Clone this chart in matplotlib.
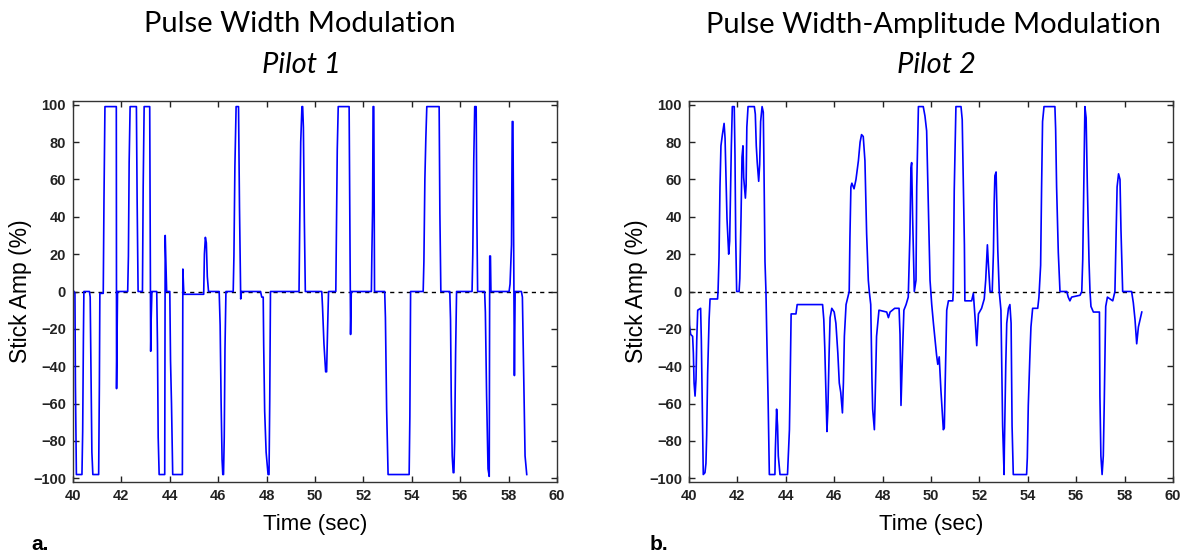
import matplotlib.pyplot as plt
import numpy as np

# Pilot 1 - pulse width modulation (time in sec, stick amplitude in %)
t_pwm = [40.04, 40.08, 40.10, 40.14, 40.37, 40.40, 40.43, 40.45, 40.68, 40.71, 40.74, 40.78, 40.82,
         41.06, 41.09, 41.11, 41.25, 41.28, 41.32, 41.79, 41.80, 41.82, 41.84, 42.26, 42.29, 42.32,
         42.36, 42.62, 42.65, 42.69, 42.87, 42.90, 42.94, 43.17, 43.19, 43.21, 43.23, 43.26, 43.46,
         43.49, 43.52, 43.56, 43.79, 43.81, 43.84, 43.87, 44.00, 44.03, 44.07, 44.12, 44.52, 44.54,
         44.56, 44.58, 45.40, 45.43, 45.47, 45.51, 45.55, 45.60, 46.04, 46.08, 46.12, 46.16, 46.19,
         46.22, 46.25, 46.28, 46.32, 46.62, 46.65, 46.69, 46.74, 46.84, 46.88, 46.93, 46.96, 47.75,
         47.80, 47.86, 47.88, 47.92, 47.98, 48.06, 48.10, 48.13, 48.16, 49.34, 49.37, 49.41, 49.46,
         49.49, 49.52, 49.56, 49.60, 50.28, 50.31, 50.37, 50.44, 50.48, 50.52, 50.56, 50.86, 50.88,
         50.92, 50.96, 51.41, 51.44, 51.47, 51.50, 52.33, 52.35, 52.38, 52.40, 52.43, 52.46, 52.88,
         52.91, 52.96, 53.02, 53.89, 53.92, 53.95, 54.47, 54.50, 54.54, 54.58, 54.62, 55.13, 55.16,
         55.20, 55.57, 55.60, 55.63, 55.67, 55.71, 55.74, 55.77, 55.81, 55.85, 56.49, 56.52, 56.56,
         56.60, 56.66, 56.69, 56.72, 57.01, 57.04, 57.09, 57.15, 57.20, 57.22, 57.25, 57.27, 58.02,
         58.06, 58.12, 58.15, 58.18, 58.21, 58.24, 58.27, 58.53, 58.57, 58.62, 58.68, 58.75]
amp_pwm = [0, -1, -50, -98, -98, -75, -25, 0, 0, -3, -38, -86, -98,
           -98, -50, -1, -1, 49, 99, 99, -52, -25, 0, 0, 19, 69,
           99, 99, 49, 0, 0, 56, 99, 99, 32, -32, -15, 0, 0,
           -28, -78, -98, -98, 30, 15, 0, 0, -37, -60, -98, -98, 12,
           5, -1.5, -1.5, 20, 29, 26, 8, 0, 0, -18, -59, -90, -98,
           -98, -78, -31, 0, 0, 19, 67, 99, 99, 45, -4, 0, 0,
           -3, -3, -29, -64, -86, -98, -98, -58, 0, 0, 37, 80, 99,
           99, 88, 38, 0, 0, -8, -28, -43, -43, -20, 0, 0, 27,
           76, 99, 99, 37, -23, 0, 0, 20, 44, 99, 99, 0, 0,
           -14, -63, -98, -98, -67, 0, 0, 16, 60, 82, 99, 99, 42,
           0, 0, -15, -56, -88, -97, -97, -81, -33, 0, 0, 20, 70,
           99, 99, 38, 0, 0, -11, -55, -95, -99, 19, 19, 0, 0,
           4, 25, 91, 91, 23, -45, 0, 0, -3, -41, -88, -98]

# Pilot 2 - pulse width-amplitude modulation
t_pwam = [40.00, 40.02, 40.07, 40.15, 40.18, 40.21, 40.25, 40.29, 40.32, 40.36, 40.48, 40.51, 40.55,
          40.59, 40.66, 40.70, 40.73, 40.77, 40.83, 40.87, 41.18, 41.20, 41.24, 41.28, 41.32, 41.38,
          41.45, 41.49, 41.53, 41.57, 41.64, 41.68, 41.72, 41.75, 41.79, 41.87, 41.90, 41.93, 41.97,
          42.07, 42.10, 42.15, 42.19, 42.23, 42.26, 42.33, 42.36, 42.39, 42.44, 42.70, 42.74, 42.78,
          42.82, 42.88, 42.92, 42.96, 43.02, 43.07, 43.10, 43.14, 43.18, 43.21, 43.27, 43.32, 43.55,
          43.57, 43.62, 43.66, 43.69, 43.76, 44.07, 44.10, 44.15, 44.17, 44.22, 44.42, 44.47, 45.52,
          45.57, 45.61, 45.65, 45.70, 45.74, 45.79, 45.83, 45.90, 46.00, 46.07, 46.15, 46.21, 46.27,
          46.34, 46.38, 46.42, 46.49, 46.58, 46.62, 46.65, 46.69, 46.73, 46.82, 46.90, 47.00, 47.07,
          47.13, 47.20, 47.27, 47.34, 47.41, 47.45, 47.51, 47.56, 47.59, 47.66, 47.69, 47.75, 47.85,
          48.17, 48.24, 48.31, 48.50, 48.68, 48.72, 48.76, 48.83, 48.88, 48.97, 49.06, 49.13, 49.17,
          49.20, 49.24, 49.31, 49.38, 49.41, 49.48, 49.68, 49.75, 49.82, 49.89, 49.96, 50.03, 50.10,
          50.23, 50.28, 50.34, 50.41, 50.51, 50.55, 50.58, 50.65, 50.72, 50.90, 50.92, 50.96, 51.03,
          51.24, 51.29, 51.34, 51.38, 51.40, 51.68, 51.75, 51.82, 51.89, 51.96, 52.09, 52.20, 52.26,
          52.33, 52.37, 52.44, 52.53, 52.58, 52.61, 52.64, 52.69, 52.72, 52.76, 52.82, 52.89, 52.92,
          52.96, 53.02, 53.03, 53.09, 53.13, 53.20, 53.26, 53.31, 53.35, 53.40, 53.95, 53.98, 54.02,
          54.09, 54.13, 54.20, 54.41, 54.46, 54.53, 54.57, 54.61, 54.67, 55.12, 55.15, 55.19, 55.26,
          55.33, 55.61, 55.67, 55.74, 55.81, 56.16, 56.23, 56.27, 56.31, 56.36, 56.41, 56.46, 56.53,
          56.57, 56.61, 56.71, 56.96, 56.98, 57.02, 57.07, 57.12, 57.16, 57.22, 57.29, 57.40, 57.51,
          57.60, 57.64, 57.69, 57.75, 57.81, 57.85, 57.92, 58.29, 58.36, 58.43, 58.50, 58.57, 58.71]
amp_pwam = [-9, -18, -23, -24, -33, -49, -56, -47, -26, -10, -9, -26, -63,
            -98, -97, -92, -77, -44, -15, -4, -4, 0, 18, 56, 78, 84,
            90, 82, 60, 39, 20, 27, 56, 78, 99, 99, 73, 29, 0,
            0, 7, 40, 72, 78, 61, 50, 57, 88, 99, 99, 95, 78,
            69, 59, 68, 91, 99, 96, 64, 16, 0, -21, -59, -98, -98,
            -84, -63, -72, -88, -98, -98, -89, -74, -58, -12, -12, -7, -7,
            -15, -30, -51, -75, -63, -33, -14, -9, -11, -17, -33, -49, -54,
            -65, -49, -24, -7, -2, 0, 29, 56, 58, 55, 60, 70, 80,
            84, 83, 70, 31, 6, 0, -7, -47, -63, -74, -59, -24, -10,
            -11, -14, -11, -9, -9, -23, -61, -30, -10, -7, -3, 31, 66,
            69, 40, 0, 6, 56, 99, 99, 94, 86, 46, 6, -7, -17,
            -34, -39, -35, -53, -74, -73, -53, -10, -5, -5, 0, 54, 99,
            99, 92, 54, 25, -5, -5, -1, -14, -29, -12, -9, -4, 6,
            25, 15, 0, 0, 21, 47, 62, 64, 47, 22, 0, -10, -35,
            -72, -98, -85, -39, -17, -9, -7, -17, -72, -98, -98, -89, -61,
            -33, -19, -9, -9, -3, 14, 56, 91, 99, 99, 87, 56, 21,
            0, 0, -3, -5, -3, -2, 0, 17, 52, 99, 93, 57, 16,
            0, -8, -11, -11, -56, -88, -98, -88, -59, -8, -3, -4, -5,
            0, 25, 56, 63, 60, 33, 0, 0, -6, -15, -28, -19, -11]

titles = ['Pulse Width Modulation', 'Pulse Width-Amplitude Modulation']
subtitles = ['Pilot 1', 'Pilot 2']
panel_tags = ['a.', 'b.']
xticks = np.arange(40, 61, 2)
yticks = np.arange(-100, 101, 20)

fig = plt.figure(figsize=(11.84, 5.56), dpi=100)
ax_lefts = [73 / 1184, 689 / 1184]
series = [(t_pwm, amp_pwm), (t_pwam, amp_pwam)]
title_x = [300 / 1184, 933 / 1184]
sub_x = [301 / 1184, 936 / 1184]
tag_x = [31 / 1184, 650 / 1184]

for i in range(2):
    ax = fig.add_axes([ax_lefts[i], 74 / 556, 484 / 1184, 381 / 556])
    t, a = series[i]
    ax.axhline(0, color='black', lw=1, ls=(0, (3, 3)), zorder=1)
    ax.plot(t, a, color='#0000ff', lw=1.2, zorder=2)
    ax.set_xlim(40, 60)
    ax.set_ylim(-102, 102)
    ax.set_xticks(xticks)
    ax.set_yticks(yticks)
    ax.tick_params(direction='in', top=True, right=True, length=4, width=1,
                   labelsize=10.5, pad=5, colors='#222222')
    for lab in ax.get_xticklabels() + ax.get_yticklabels():
        lab.set_fontweight('bold')
        lab.set_family('Liberation Sans')
    for sp in ax.spines.values():
        sp.set_color('#333333')
        sp.set_linewidth(1)
    ax.set_xlabel('Time (sec)', fontsize=16, family='Liberation Sans')
    ax.set_ylabel('Stick Amp (%)', fontsize=16.5, family='Liberation Sans')
    ax.xaxis.set_label_coords(0.5, -0.083)
    ax.yaxis.set_label_coords(-0.085, 0.5)

    fig.text(title_x[i], 1 - 32.5 / 556, titles[i], ha='center', va='baseline',
             fontsize=21, family='Lato')
    fig.text(sub_x[i], 1 - 72.7 / 556, subtitles[i], ha='center', va='baseline',
             fontsize=21, family='Lato', style='italic')
    fig.text(tag_x[i], 1 - 545 / 556, panel_tags[i], ha='left', va='center',
             fontsize=15, family='Liberation Sans', weight='bold')

fig.savefig('out.png', dpi=100)
